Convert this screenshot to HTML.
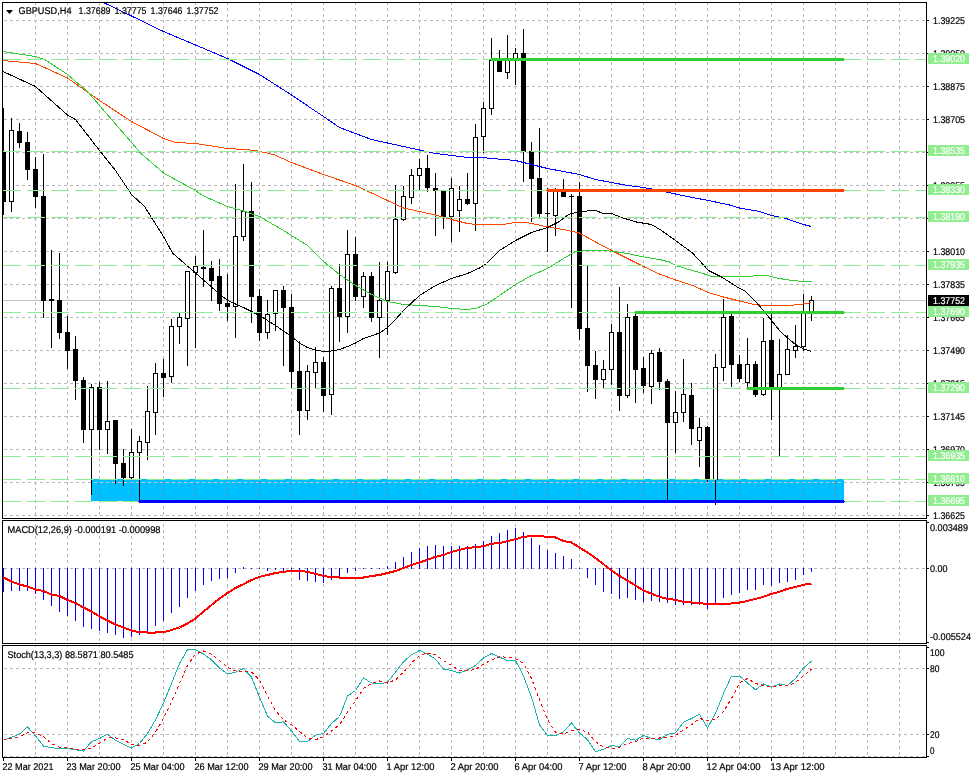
<!DOCTYPE html><html><head><meta charset="utf-8"><title>GBPUSD,H4</title><style>html,body{margin:0;padding:0;background:#fff}svg{display:block}</style></head><body><svg width="972" height="778" viewBox="0 0 972 778" shape-rendering="crispEdges">
<rect width="972" height="778" fill="#fff"/>
<defs><clipPath id="cm"><rect x="3" y="3" width="923" height="515"/></clipPath><clipPath id="c2"><rect x="3" y="521" width="923" height="122"/></clipPath><clipPath id="c3"><rect x="3" y="646" width="923" height="111"/></clipPath></defs>
<rect x="91" y="479" width="753" height="22" fill="#00BFFF"/>
<path d="M35.5 2V757M67.5 2V757M99.5 2V757M131.5 2V757M163.5 2V757M195.5 2V757M227.5 2V757M259.5 2V757M291.5 2V757M323.5 2V757M355.5 2V757M387.5 2V757M419.5 2V757M451.5 2V757M483.5 2V757M515.5 2V757M547.5 2V757M579.5 2V757M611.5 2V757M643.5 2V757M675.5 2V757M707.5 2V757M739.5 2V757M771.5 2V757M803.5 2V757M835.5 2V757M867.5 2V757M899.5 2V757" stroke="#b8b8b8" stroke-width="1" stroke-dasharray="3 3" fill="none"/>
<path d="M4 20.5H926M4 53.5H926M4 86.5H926M4 119.5H926M4 152.5H926M4 185.5H926M4 218.5H926M4 251.5H926M4 284.5H926M4 317.5H926M4 350.5H926M4 383.5H926M4 416.5H926M4 449.5H926M4 482.5H926M4 515.5H926M4 568.5H926M4 668.5H926M4 734.5H926M4 756.5H926" stroke="#b8b8b8" stroke-width="1" stroke-dasharray="3 3" fill="none"/>
<clipPath id="cr"><rect x="91" y="480" width="753" height="21"/></clipPath>
<path clip-path="url(#cr)" d="M99.5 2V757M131.5 2V757M163.5 2V757M195.5 2V757M227.5 2V757M259.5 2V757M291.5 2V757M323.5 2V757M355.5 2V757M387.5 2V757M419.5 2V757M451.5 2V757M483.5 2V757M515.5 2V757M547.5 2V757M579.5 2V757M611.5 2V757M643.5 2V757M675.5 2V757M707.5 2V757M739.5 2V757M771.5 2V757M803.5 2V757M835.5 2V757" stroke="#5f86b8" stroke-width="1" stroke-dasharray="3 3" fill="none"/>
<path clip-path="url(#cr)" d="M4 482.5H926" stroke="#cfc8c4" stroke-width="1" stroke-dasharray="3 3" fill="none"/>
<rect x="0" y="519" width="972" height="1" fill="#fff"/><rect x="0" y="644" width="972" height="1" fill="#fff"/>
<rect x="35" y="519" width="1" height="1" fill="#b8b8b8"/>
<rect x="3" y="300" width="923" height="1" fill="#c0c0c0"/>
<g clip-path="url(#cm)">
<rect x="3" y="108" width="1" height="107" fill="#000"/>
<rect x="1" y="152" width="5" height="50" fill="#000"/>
<rect x="11" y="118" width="1" height="94" fill="#000"/>
<rect x="9" y="130" width="5" height="72" fill="#000"/>
<rect x="10" y="131" width="3" height="70" fill="#fff"/>
<rect x="19" y="123" width="1" height="25" fill="#000"/>
<rect x="17" y="131" width="5" height="12" fill="#000"/>
<rect x="27" y="132" width="1" height="48" fill="#000"/>
<rect x="25" y="142" width="5" height="28" fill="#000"/>
<rect x="35" y="157" width="1" height="51" fill="#000"/>
<rect x="33" y="169" width="5" height="28" fill="#000"/>
<rect x="43" y="154" width="1" height="164" fill="#000"/>
<rect x="41" y="196" width="5" height="105" fill="#000"/>
<rect x="51" y="250" width="1" height="98" fill="#000"/>
<rect x="49" y="299" width="5" height="2" fill="#000"/>
<rect x="59" y="253" width="1" height="86" fill="#000"/>
<rect x="57" y="300" width="5" height="33" fill="#000"/>
<rect x="67" y="316" width="1" height="53" fill="#000"/>
<rect x="65" y="332" width="5" height="19" fill="#000"/>
<rect x="75" y="336" width="1" height="64" fill="#000"/>
<rect x="73" y="349" width="5" height="32" fill="#000"/>
<rect x="83" y="377" width="1" height="66" fill="#000"/>
<rect x="81" y="380" width="5" height="50" fill="#000"/>
<rect x="91" y="384" width="1" height="111" fill="#000"/>
<rect x="89" y="387" width="5" height="43" fill="#000"/>
<rect x="90" y="388" width="3" height="41" fill="#fff"/>
<rect x="99" y="382" width="1" height="68" fill="#000"/>
<rect x="97" y="387" width="5" height="43" fill="#000"/>
<rect x="107" y="381" width="1" height="73" fill="#000"/>
<rect x="105" y="421" width="5" height="9" fill="#000"/>
<rect x="106" y="422" width="3" height="7" fill="#fff"/>
<rect x="115" y="420" width="1" height="64" fill="#000"/>
<rect x="113" y="420" width="5" height="44" fill="#000"/>
<rect x="123" y="449" width="1" height="37" fill="#000"/>
<rect x="121" y="463" width="5" height="15" fill="#000"/>
<rect x="131" y="429" width="1" height="50" fill="#000"/>
<rect x="129" y="452" width="5" height="26" fill="#000"/>
<rect x="130" y="453" width="3" height="24" fill="#fff"/>
<rect x="139" y="436" width="1" height="65" fill="#000"/>
<rect x="137" y="441" width="5" height="12" fill="#000"/>
<rect x="138" y="442" width="3" height="10" fill="#fff"/>
<rect x="147" y="386" width="1" height="74" fill="#000"/>
<rect x="145" y="411" width="5" height="32" fill="#000"/>
<rect x="146" y="412" width="3" height="30" fill="#fff"/>
<rect x="155" y="363" width="1" height="72" fill="#000"/>
<rect x="153" y="373" width="5" height="40" fill="#000"/>
<rect x="154" y="374" width="3" height="38" fill="#fff"/>
<rect x="163" y="359" width="1" height="38" fill="#000"/>
<rect x="161" y="373" width="5" height="5" fill="#000"/>
<rect x="171" y="319" width="1" height="64" fill="#000"/>
<rect x="169" y="326" width="5" height="51" fill="#000"/>
<rect x="170" y="327" width="3" height="49" fill="#fff"/>
<rect x="179" y="312" width="1" height="32" fill="#000"/>
<rect x="177" y="317" width="5" height="10" fill="#000"/>
<rect x="178" y="318" width="3" height="8" fill="#fff"/>
<rect x="187" y="271" width="1" height="95" fill="#000"/>
<rect x="185" y="271" width="5" height="48" fill="#000"/>
<rect x="186" y="272" width="3" height="46" fill="#fff"/>
<rect x="195" y="256" width="1" height="92" fill="#000"/>
<rect x="193" y="266" width="5" height="7" fill="#000"/>
<rect x="194" y="267" width="3" height="5" fill="#fff"/>
<rect x="203" y="230" width="1" height="57" fill="#000"/>
<rect x="201" y="267" width="5" height="2" fill="#000"/>
<rect x="211" y="261" width="1" height="40" fill="#000"/>
<rect x="209" y="268" width="5" height="13" fill="#000"/>
<rect x="219" y="259" width="1" height="52" fill="#000"/>
<rect x="217" y="276" width="5" height="28" fill="#000"/>
<rect x="227" y="274" width="1" height="47" fill="#000"/>
<rect x="225" y="303" width="5" height="4" fill="#000"/>
<rect x="235" y="184" width="1" height="154" fill="#000"/>
<rect x="233" y="236" width="5" height="71" fill="#000"/>
<rect x="234" y="237" width="3" height="69" fill="#fff"/>
<rect x="243" y="164" width="1" height="77" fill="#000"/>
<rect x="241" y="211" width="5" height="26" fill="#000"/>
<rect x="242" y="212" width="3" height="24" fill="#fff"/>
<rect x="251" y="182" width="1" height="141" fill="#000"/>
<rect x="249" y="211" width="5" height="86" fill="#000"/>
<rect x="259" y="289" width="1" height="52" fill="#000"/>
<rect x="257" y="296" width="5" height="37" fill="#000"/>
<rect x="267" y="300" width="1" height="39" fill="#000"/>
<rect x="265" y="314" width="5" height="19" fill="#000"/>
<rect x="266" y="315" width="3" height="17" fill="#fff"/>
<rect x="275" y="290" width="1" height="41" fill="#000"/>
<rect x="273" y="290" width="5" height="24" fill="#000"/>
<rect x="274" y="291" width="3" height="22" fill="#fff"/>
<rect x="283" y="286" width="1" height="80" fill="#000"/>
<rect x="281" y="290" width="5" height="18" fill="#000"/>
<rect x="291" y="294" width="1" height="94" fill="#000"/>
<rect x="289" y="307" width="5" height="65" fill="#000"/>
<rect x="299" y="341" width="1" height="94" fill="#000"/>
<rect x="297" y="371" width="5" height="40" fill="#000"/>
<rect x="307" y="365" width="1" height="55" fill="#000"/>
<rect x="305" y="371" width="5" height="40" fill="#000"/>
<rect x="306" y="372" width="3" height="38" fill="#fff"/>
<rect x="315" y="347" width="1" height="41" fill="#000"/>
<rect x="313" y="362" width="5" height="11" fill="#000"/>
<rect x="314" y="363" width="3" height="9" fill="#fff"/>
<rect x="323" y="357" width="1" height="55" fill="#000"/>
<rect x="321" y="362" width="5" height="34" fill="#000"/>
<rect x="331" y="286" width="1" height="129" fill="#000"/>
<rect x="329" y="288" width="5" height="107" fill="#000"/>
<rect x="330" y="289" width="3" height="105" fill="#fff"/>
<rect x="339" y="264" width="1" height="78" fill="#000"/>
<rect x="337" y="288" width="5" height="29" fill="#000"/>
<rect x="347" y="230" width="1" height="103" fill="#000"/>
<rect x="345" y="254" width="5" height="63" fill="#000"/>
<rect x="346" y="255" width="3" height="61" fill="#fff"/>
<rect x="355" y="237" width="1" height="64" fill="#000"/>
<rect x="353" y="254" width="5" height="43" fill="#000"/>
<rect x="363" y="272" width="1" height="36" fill="#000"/>
<rect x="361" y="276" width="5" height="21" fill="#000"/>
<rect x="362" y="277" width="3" height="19" fill="#fff"/>
<rect x="371" y="272" width="1" height="50" fill="#000"/>
<rect x="369" y="276" width="5" height="42" fill="#000"/>
<rect x="379" y="262" width="1" height="96" fill="#000"/>
<rect x="377" y="300" width="5" height="18" fill="#000"/>
<rect x="378" y="301" width="3" height="16" fill="#fff"/>
<rect x="387" y="262" width="1" height="73" fill="#000"/>
<rect x="385" y="271" width="5" height="30" fill="#000"/>
<rect x="386" y="272" width="3" height="28" fill="#fff"/>
<rect x="395" y="185" width="1" height="89" fill="#000"/>
<rect x="393" y="219" width="5" height="54" fill="#000"/>
<rect x="394" y="220" width="3" height="52" fill="#fff"/>
<rect x="403" y="186" width="1" height="35" fill="#000"/>
<rect x="401" y="196" width="5" height="24" fill="#000"/>
<rect x="402" y="197" width="3" height="22" fill="#fff"/>
<rect x="411" y="169" width="1" height="35" fill="#000"/>
<rect x="409" y="175" width="5" height="23" fill="#000"/>
<rect x="410" y="176" width="3" height="21" fill="#fff"/>
<rect x="419" y="159" width="1" height="32" fill="#000"/>
<rect x="417" y="168" width="5" height="8" fill="#000"/>
<rect x="418" y="169" width="3" height="6" fill="#fff"/>
<rect x="427" y="155" width="1" height="37" fill="#000"/>
<rect x="425" y="168" width="5" height="20" fill="#000"/>
<rect x="435" y="173" width="1" height="63" fill="#000"/>
<rect x="433" y="188" width="5" height="3" fill="#000"/>
<rect x="443" y="190" width="1" height="39" fill="#000"/>
<rect x="441" y="190" width="5" height="27" fill="#000"/>
<rect x="451" y="178" width="1" height="64" fill="#000"/>
<rect x="449" y="188" width="5" height="29" fill="#000"/>
<rect x="450" y="189" width="3" height="27" fill="#fff"/>
<rect x="459" y="186" width="1" height="46" fill="#000"/>
<rect x="457" y="199" width="5" height="12" fill="#000"/>
<rect x="458" y="200" width="3" height="10" fill="#fff"/>
<rect x="467" y="173" width="1" height="32" fill="#000"/>
<rect x="465" y="199" width="5" height="5" fill="#000"/>
<rect x="475" y="124" width="1" height="107" fill="#000"/>
<rect x="473" y="137" width="5" height="67" fill="#000"/>
<rect x="474" y="138" width="3" height="65" fill="#fff"/>
<rect x="483" y="102" width="1" height="51" fill="#000"/>
<rect x="481" y="108" width="5" height="29" fill="#000"/>
<rect x="482" y="109" width="3" height="27" fill="#fff"/>
<rect x="491" y="38" width="1" height="77" fill="#000"/>
<rect x="489" y="60" width="5" height="49" fill="#000"/>
<rect x="490" y="61" width="3" height="47" fill="#fff"/>
<rect x="499" y="50" width="1" height="22" fill="#000"/>
<rect x="497" y="60" width="5" height="12" fill="#000"/>
<rect x="507" y="35" width="1" height="44" fill="#000"/>
<rect x="505" y="60" width="5" height="13" fill="#000"/>
<rect x="506" y="61" width="3" height="11" fill="#fff"/>
<rect x="515" y="48" width="1" height="37" fill="#000"/>
<rect x="513" y="53" width="5" height="8" fill="#000"/>
<rect x="514" y="54" width="3" height="6" fill="#fff"/>
<rect x="523" y="29" width="1" height="153" fill="#000"/>
<rect x="521" y="53" width="5" height="99" fill="#000"/>
<rect x="531" y="142" width="1" height="80" fill="#000"/>
<rect x="529" y="151" width="5" height="28" fill="#000"/>
<rect x="539" y="128" width="1" height="89" fill="#000"/>
<rect x="537" y="178" width="5" height="36" fill="#000"/>
<rect x="547" y="188" width="1" height="64" fill="#000"/>
<rect x="545" y="213" width="5" height="1" fill="#000"/>
<rect x="555" y="188" width="1" height="48" fill="#000"/>
<rect x="553" y="191" width="5" height="25" fill="#000"/>
<rect x="554" y="192" width="3" height="23" fill="#fff"/>
<rect x="563" y="179" width="1" height="18" fill="#000"/>
<rect x="561" y="191" width="5" height="6" fill="#000"/>
<rect x="571" y="194" width="1" height="114" fill="#000"/>
<rect x="569" y="196" width="5" height="1" fill="#000"/>
<rect x="579" y="182" width="1" height="158" fill="#000"/>
<rect x="577" y="196" width="5" height="133" fill="#000"/>
<rect x="587" y="265" width="1" height="127" fill="#000"/>
<rect x="585" y="328" width="5" height="38" fill="#000"/>
<rect x="595" y="351" width="1" height="48" fill="#000"/>
<rect x="593" y="365" width="5" height="15" fill="#000"/>
<rect x="603" y="360" width="1" height="28" fill="#000"/>
<rect x="601" y="369" width="5" height="11" fill="#000"/>
<rect x="602" y="370" width="3" height="9" fill="#fff"/>
<rect x="611" y="324" width="1" height="61" fill="#000"/>
<rect x="609" y="332" width="5" height="38" fill="#000"/>
<rect x="610" y="333" width="3" height="36" fill="#fff"/>
<rect x="619" y="287" width="1" height="124" fill="#000"/>
<rect x="617" y="332" width="5" height="64" fill="#000"/>
<rect x="627" y="304" width="1" height="94" fill="#000"/>
<rect x="625" y="317" width="5" height="79" fill="#000"/>
<rect x="626" y="318" width="3" height="77" fill="#fff"/>
<rect x="635" y="313" width="1" height="90" fill="#000"/>
<rect x="633" y="316" width="5" height="54" fill="#000"/>
<rect x="643" y="357" width="1" height="36" fill="#000"/>
<rect x="641" y="368" width="5" height="18" fill="#000"/>
<rect x="651" y="350" width="1" height="54" fill="#000"/>
<rect x="649" y="353" width="5" height="34" fill="#000"/>
<rect x="650" y="354" width="3" height="32" fill="#fff"/>
<rect x="659" y="348" width="1" height="42" fill="#000"/>
<rect x="657" y="352" width="5" height="30" fill="#000"/>
<rect x="667" y="379" width="1" height="122" fill="#000"/>
<rect x="665" y="381" width="5" height="42" fill="#000"/>
<rect x="675" y="391" width="1" height="62" fill="#000"/>
<rect x="673" y="412" width="5" height="11" fill="#000"/>
<rect x="674" y="413" width="3" height="9" fill="#fff"/>
<rect x="683" y="359" width="1" height="63" fill="#000"/>
<rect x="681" y="394" width="5" height="19" fill="#000"/>
<rect x="682" y="395" width="3" height="17" fill="#fff"/>
<rect x="691" y="383" width="1" height="62" fill="#000"/>
<rect x="689" y="395" width="5" height="34" fill="#000"/>
<rect x="699" y="418" width="1" height="49" fill="#000"/>
<rect x="697" y="427" width="5" height="14" fill="#000"/>
<rect x="698" y="428" width="3" height="12" fill="#fff"/>
<rect x="707" y="426" width="1" height="56" fill="#000"/>
<rect x="705" y="427" width="5" height="53" fill="#000"/>
<rect x="715" y="354" width="1" height="151" fill="#000"/>
<rect x="713" y="367" width="5" height="113" fill="#000"/>
<rect x="714" y="368" width="3" height="111" fill="#fff"/>
<rect x="723" y="299" width="1" height="82" fill="#000"/>
<rect x="721" y="317" width="5" height="51" fill="#000"/>
<rect x="722" y="318" width="3" height="49" fill="#fff"/>
<rect x="731" y="314" width="1" height="73" fill="#000"/>
<rect x="729" y="316" width="5" height="49" fill="#000"/>
<rect x="739" y="355" width="1" height="27" fill="#000"/>
<rect x="737" y="364" width="5" height="15" fill="#000"/>
<rect x="747" y="338" width="1" height="49" fill="#000"/>
<rect x="745" y="364" width="5" height="19" fill="#000"/>
<rect x="746" y="365" width="3" height="17" fill="#fff"/>
<rect x="755" y="361" width="1" height="36" fill="#000"/>
<rect x="753" y="364" width="5" height="31" fill="#000"/>
<rect x="763" y="318" width="1" height="78" fill="#000"/>
<rect x="761" y="341" width="5" height="54" fill="#000"/>
<rect x="762" y="342" width="3" height="52" fill="#fff"/>
<rect x="771" y="314" width="1" height="106" fill="#000"/>
<rect x="769" y="340" width="5" height="49" fill="#000"/>
<rect x="779" y="339" width="1" height="117" fill="#000"/>
<rect x="777" y="374" width="5" height="15" fill="#000"/>
<rect x="778" y="375" width="3" height="13" fill="#fff"/>
<rect x="787" y="335" width="1" height="40" fill="#000"/>
<rect x="785" y="349" width="5" height="26" fill="#000"/>
<rect x="786" y="350" width="3" height="24" fill="#fff"/>
<rect x="795" y="325" width="1" height="33" fill="#000"/>
<rect x="793" y="346" width="5" height="5" fill="#000"/>
<rect x="794" y="347" width="3" height="3" fill="#fff"/>
<rect x="803" y="294" width="1" height="57" fill="#000"/>
<rect x="801" y="311" width="5" height="36" fill="#000"/>
<rect x="802" y="312" width="3" height="34" fill="#fff"/>
<rect x="811" y="296" width="1" height="25" fill="#000"/>
<rect x="809" y="300" width="5" height="13" fill="#000"/>
<rect x="810" y="301" width="3" height="11" fill="#fff"/>
<polyline points="100.5,0.5 104.5,3.0 131.5,16.0 163.5,31.5 195.5,45.0 227.5,58.5 243.5,66.5 259.5,74.5 291.5,95.0 323.5,116.5 339.5,127.5 355.5,133.5 371.5,139.5 387.5,143.0 403.5,146.5 419.5,150.0 435.5,153.5 451.5,155.5 467.5,157.5 486.5,158.0 515.5,160.5 531.5,164.5 547.5,168.5 563.5,171.5 579.5,174.5 595.5,179.5 611.5,182.5 627.5,185.5 643.5,187.5 659.5,190.5 675.5,194.0 692.5,197.5 708.5,200.5 729.5,205.0 739.5,208.0 759.5,211.5 771.5,215.5 784.5,218.0 803.5,224.5 811.5,226.5" fill="none" stroke="#0000FF" stroke-width="1"/>
<polyline points="3.0,60.5 35.5,63.5 67.5,78.0 99.5,100.5 131.5,121.5 163.5,138.5 175.5,142.5 195.5,143.5 227.5,148.5 243.5,149.5 255.5,150.5 273.5,154.5 291.5,162.5 323.5,174.5 355.5,185.5 371.5,193.0 387.5,200.5 403.5,208.0 419.5,211.5 435.5,215.0 451.5,219.5 467.5,223.5 475.5,224.5 486.5,225.0 502.5,224.5 515.5,222.5 526.5,222.5 536.5,224.5 547.5,227.0 563.5,229.5 579.5,233.0 595.5,242.0 611.5,250.5 627.5,258.5 643.5,266.5 659.5,274.0 675.5,280.0 692.5,285.5 708.5,292.5 721.5,296.5 729.5,298.5 739.5,301.0 754.5,304.5 769.5,305.8 789.5,305.5 803.5,304.0 811.5,302.5" fill="none" stroke="#FF4500" stroke-width="1"/>
<polyline points="3.0,51.5 35.5,56.5 45.5,60.0 67.5,74.5 87.5,91.5 99.5,105.5 131.5,142.5 140.5,153.0 163.5,173.0 195.5,190.5 202.5,195.5 227.5,206.5 243.5,211.0 259.5,216.5 283.5,230.5 307.5,245.5 323.5,261.5 339.5,274.5 355.5,285.5 371.5,294.5 387.5,301.5 403.5,304.5 419.5,305.5 435.5,306.5 451.5,308.5 467.5,309.5 475.5,308.5 486.5,304.5 499.5,295.5 515.5,284.5 531.5,275.5 547.5,268.5 563.5,258.5 574.5,252.0 586.5,250.5 604.5,250.5 616.5,252.0 627.5,253.5 643.5,257.0 659.5,259.5 669.5,262.0 675.5,265.5 692.5,270.5 704.5,274.0 711.5,276.5 721.5,277.0 729.5,276.5 739.5,277.0 759.5,275.5 766.5,275.5 779.5,278.5 791.5,280.5 803.5,281.5 811.5,281.5" fill="none" stroke="#32CD32" stroke-width="1"/>
<polyline points="3.0,71.5 35.5,86.5 67.5,115.0 75.5,119.5 99.5,150.5 115.5,170.5 131.5,194.5 144.5,206.5 163.5,236.5 172.5,253.0 180.5,260.0 195.5,273.0 215.5,290.5 227.5,300.5 243.5,307.5 259.5,315.5 275.5,325.5 291.5,336.5 299.5,343.0 307.5,347.5 315.5,350.0 323.5,351.5 331.5,351.0 339.5,349.5 347.5,346.5 355.5,343.0 363.5,338.5 379.5,333.0 387.5,327.5 395.5,319.5 403.5,310.5 419.5,295.5 435.5,285.5 451.5,278.5 467.5,273.5 479.5,268.0 486.5,263.5 499.5,250.5 515.5,240.5 531.5,232.5 547.5,227.5 558.5,222.0 568.5,214.5 579.5,211.5 595.5,210.5 603.5,213.5 611.5,213.5 621.5,217.5 636.5,222.0 651.5,224.5 661.5,230.5 675.5,240.5 692.5,253.0 708.5,270.5 721.5,277.0 729.5,282.0 739.5,288.5 744.5,290.5 754.5,300.5 763.5,310.5 771.5,320.5 779.5,330.5 787.5,338.0 795.5,344.5 803.5,349.0 811.5,351.5" fill="none" stroke="#000" stroke-width="1"/>
<path d="M3 59.5H926M3 151.5H926M3 190.5H926M3 217.5H926M3 265.5H926M3 312.5H926M3 388.5H926M3 456.5H926M3 479.5H926M3 501.5H926" stroke="#90EE90" stroke-width="1" stroke-dasharray="18 6" fill="none"/>
<rect x="491" y="58" width="353" height="3" fill="#32CD32"/><rect x="490" y="59" width="355" height="1" fill="#32CD32"/>
<rect x="547" y="189" width="297" height="3" fill="#FF4500"/><rect x="546" y="190" width="299" height="1" fill="#FF4500"/>
<rect x="635" y="311" width="209" height="3" fill="#32CD32"/><rect x="634" y="312" width="211" height="1" fill="#32CD32"/>
<rect x="747" y="387" width="97" height="3" fill="#32CD32"/><rect x="746" y="388" width="99" height="1" fill="#32CD32"/>
<rect x="139" y="500" width="705" height="3" fill="#0000FF"/><rect x="138" y="501" width="707" height="1" fill="#0000FF"/>
</g>
<g clip-path="url(#c2)">
<rect x="3" y="568" width="1" height="24" fill="#0000FF"/>
<rect x="11" y="568" width="1" height="23" fill="#0000FF"/>
<rect x="19" y="568" width="1" height="23" fill="#0000FF"/>
<rect x="27" y="568" width="1" height="23" fill="#0000FF"/>
<rect x="35" y="568" width="1" height="26" fill="#0000FF"/>
<rect x="43" y="568" width="1" height="32" fill="#0000FF"/>
<rect x="51" y="568" width="1" height="38" fill="#0000FF"/>
<rect x="59" y="568" width="1" height="44" fill="#0000FF"/>
<rect x="67" y="568" width="1" height="48" fill="#0000FF"/>
<rect x="75" y="568" width="1" height="53" fill="#0000FF"/>
<rect x="83" y="568" width="1" height="59" fill="#0000FF"/>
<rect x="91" y="568" width="1" height="61" fill="#0000FF"/>
<rect x="99" y="568" width="1" height="63" fill="#0000FF"/>
<rect x="107" y="568" width="1" height="65" fill="#0000FF"/>
<rect x="115" y="568" width="1" height="67" fill="#0000FF"/>
<rect x="123" y="568" width="1" height="70" fill="#0000FF"/>
<rect x="131" y="568" width="1" height="69" fill="#0000FF"/>
<rect x="139" y="568" width="1" height="67" fill="#0000FF"/>
<rect x="147" y="568" width="1" height="64" fill="#0000FF"/>
<rect x="155" y="568" width="1" height="58" fill="#0000FF"/>
<rect x="163" y="568" width="1" height="53" fill="#0000FF"/>
<rect x="171" y="568" width="1" height="45" fill="#0000FF"/>
<rect x="179" y="568" width="1" height="39" fill="#0000FF"/>
<rect x="187" y="568" width="1" height="30" fill="#0000FF"/>
<rect x="195" y="568" width="1" height="23" fill="#0000FF"/>
<rect x="203" y="568" width="1" height="17" fill="#0000FF"/>
<rect x="211" y="568" width="1" height="13" fill="#0000FF"/>
<rect x="219" y="568" width="1" height="11" fill="#0000FF"/>
<rect x="227" y="568" width="1" height="10" fill="#0000FF"/>
<rect x="235" y="568" width="1" height="5" fill="#0000FF"/>
<rect x="243" y="567" width="1" height="2" fill="#0000FF"/>
<rect x="251" y="568" width="1" height="1" fill="#0000FF"/>
<rect x="259" y="568" width="1" height="1" fill="#0000FF"/>
<rect x="267" y="568" width="1" height="3" fill="#0000FF"/>
<rect x="275" y="568" width="1" height="2" fill="#0000FF"/>
<rect x="283" y="568" width="1" height="4" fill="#0000FF"/>
<rect x="291" y="568" width="1" height="3" fill="#0000FF"/>
<rect x="299" y="568" width="1" height="12" fill="#0000FF"/>
<rect x="307" y="568" width="1" height="13" fill="#0000FF"/>
<rect x="315" y="568" width="1" height="14" fill="#0000FF"/>
<rect x="323" y="568" width="1" height="15" fill="#0000FF"/>
<rect x="331" y="568" width="1" height="12" fill="#0000FF"/>
<rect x="339" y="568" width="1" height="9" fill="#0000FF"/>
<rect x="347" y="568" width="1" height="5" fill="#0000FF"/>
<rect x="355" y="568" width="1" height="3" fill="#0000FF"/>
<rect x="363" y="568" width="1" height="1" fill="#0000FF"/>
<rect x="371" y="568" width="1" height="1" fill="#0000FF"/>
<rect x="379" y="568" width="1" height="1" fill="#0000FF"/>
<rect x="387" y="566" width="1" height="3" fill="#0000FF"/>
<rect x="395" y="562" width="1" height="7" fill="#0000FF"/>
<rect x="403" y="557" width="1" height="12" fill="#0000FF"/>
<rect x="411" y="552" width="1" height="17" fill="#0000FF"/>
<rect x="419" y="548" width="1" height="21" fill="#0000FF"/>
<rect x="427" y="546" width="1" height="23" fill="#0000FF"/>
<rect x="435" y="545" width="1" height="24" fill="#0000FF"/>
<rect x="443" y="546" width="1" height="23" fill="#0000FF"/>
<rect x="451" y="546" width="1" height="23" fill="#0000FF"/>
<rect x="459" y="546" width="1" height="23" fill="#0000FF"/>
<rect x="467" y="546" width="1" height="23" fill="#0000FF"/>
<rect x="475" y="544" width="1" height="25" fill="#0000FF"/>
<rect x="483" y="541" width="1" height="28" fill="#0000FF"/>
<rect x="491" y="536" width="1" height="33" fill="#0000FF"/>
<rect x="499" y="533" width="1" height="36" fill="#0000FF"/>
<rect x="507" y="530" width="1" height="39" fill="#0000FF"/>
<rect x="515" y="528" width="1" height="41" fill="#0000FF"/>
<rect x="523" y="532" width="1" height="37" fill="#0000FF"/>
<rect x="531" y="538" width="1" height="31" fill="#0000FF"/>
<rect x="539" y="545" width="1" height="24" fill="#0000FF"/>
<rect x="547" y="550" width="1" height="19" fill="#0000FF"/>
<rect x="555" y="553" width="1" height="16" fill="#0000FF"/>
<rect x="563" y="556" width="1" height="13" fill="#0000FF"/>
<rect x="571" y="559" width="1" height="10" fill="#0000FF"/>
<rect x="579" y="568" width="1" height="1" fill="#0000FF"/>
<rect x="587" y="568" width="1" height="10" fill="#0000FF"/>
<rect x="595" y="568" width="1" height="17" fill="#0000FF"/>
<rect x="603" y="568" width="1" height="24" fill="#0000FF"/>
<rect x="611" y="568" width="1" height="26" fill="#0000FF"/>
<rect x="619" y="568" width="1" height="31" fill="#0000FF"/>
<rect x="627" y="568" width="1" height="30" fill="#0000FF"/>
<rect x="635" y="568" width="1" height="32" fill="#0000FF"/>
<rect x="643" y="568" width="1" height="34" fill="#0000FF"/>
<rect x="651" y="568" width="1" height="33" fill="#0000FF"/>
<rect x="659" y="568" width="1" height="34" fill="#0000FF"/>
<rect x="667" y="568" width="1" height="35" fill="#0000FF"/>
<rect x="675" y="568" width="1" height="37" fill="#0000FF"/>
<rect x="683" y="568" width="1" height="37" fill="#0000FF"/>
<rect x="691" y="568" width="1" height="37" fill="#0000FF"/>
<rect x="699" y="568" width="1" height="37" fill="#0000FF"/>
<rect x="707" y="568" width="1" height="41" fill="#0000FF"/>
<rect x="715" y="568" width="1" height="37" fill="#0000FF"/>
<rect x="723" y="568" width="1" height="30" fill="#0000FF"/>
<rect x="731" y="568" width="1" height="27" fill="#0000FF"/>
<rect x="739" y="568" width="1" height="25" fill="#0000FF"/>
<rect x="747" y="568" width="1" height="22" fill="#0000FF"/>
<rect x="755" y="568" width="1" height="22" fill="#0000FF"/>
<rect x="763" y="568" width="1" height="17" fill="#0000FF"/>
<rect x="771" y="568" width="1" height="18" fill="#0000FF"/>
<rect x="779" y="568" width="1" height="15" fill="#0000FF"/>
<rect x="787" y="568" width="1" height="14" fill="#0000FF"/>
<rect x="795" y="568" width="1" height="12" fill="#0000FF"/>
<rect x="803" y="568" width="1" height="7" fill="#0000FF"/>
<rect x="811" y="568" width="1" height="4" fill="#0000FF"/>
<polyline points="3.5,577.5 11.5,581.5 19.5,584.5 27.5,586.5 35.5,589.5 43.5,591.0 51.5,594.5 59.5,596.0 67.5,600.0 75.5,603.0 83.5,607.5 91.5,611.5 99.5,616.5 107.5,620.5 115.5,624.5 123.5,627.5 131.5,630.5 139.5,632.2 147.5,632.5 155.5,632.5 163.5,632.2 171.5,630.0 179.5,627.5 187.5,623.5 195.5,618.5 203.5,611.5 211.5,605.0 219.5,598.5 227.5,593.0 235.5,588.0 243.5,584.2 251.5,580.0 259.5,576.8 267.5,575.0 275.5,573.0 283.5,571.8 291.5,571.0 299.5,571.0 307.5,571.8 315.5,573.8 323.5,576.0 331.5,577.2 339.5,577.5 347.5,577.5 355.5,577.5 363.5,577.5 371.5,576.0 379.5,575.0 387.5,573.0 395.5,571.0 403.5,568.0 411.5,565.0 419.5,562.5 427.5,559.8 435.5,556.8 443.5,555.0 451.5,551.8 459.5,549.8 467.5,548.0 475.5,547.2 483.5,546.2 491.5,543.8 499.5,543.0 507.5,541.2 515.5,539.2 523.5,536.8 531.5,536.2 539.5,536.2 547.5,536.8 555.5,537.5 563.5,541.0 571.5,542.5 579.5,547.5 587.5,552.5 595.5,558.0 603.5,564.2 611.5,570.5 619.5,576.0 627.5,580.5 635.5,585.5 643.5,590.5 651.5,593.8 659.5,596.8 667.5,598.8 675.5,599.8 683.5,601.8 691.5,602.5 699.5,603.0 707.5,604.2 715.5,604.2 723.5,604.2 731.5,603.5 739.5,602.5 747.5,601.0 755.5,598.8 763.5,596.8 771.5,593.8 779.5,591.8 787.5,588.8 795.5,586.8 803.5,584.8 811.5,583.5" fill="none" stroke="#FF0000" stroke-width="2"/>
</g>
<g clip-path="url(#c3)">
<polyline points="3.5,740.2 11.5,737.2 19.5,734.2 27.5,726.8 35.5,736.0 43.5,746.0 51.5,747.8 59.5,748.5 67.5,748.5 75.5,749.8 83.5,751.0 91.5,741.8 99.5,738.5 107.5,734.2 115.5,740.2 123.5,744.2 131.5,748.0 139.5,743.5 147.5,733.5 155.5,719.8 163.5,703.0 171.5,683.5 179.5,663.5 187.5,649.8 195.5,649.8 203.5,654.0 211.5,659.8 219.5,668.0 227.5,674.0 235.5,672.2 243.5,668.5 251.5,677.2 259.5,697.2 267.5,716.0 275.5,722.8 283.5,721.8 291.5,731.0 299.5,741.5 307.5,741.5 315.5,735.2 323.5,733.5 331.5,723.5 339.5,716.5 347.5,696.0 355.5,690.5 363.5,678.0 371.5,683.0 379.5,684.0 387.5,682.2 395.5,672.2 403.5,661.8 411.5,654.8 419.5,650.5 427.5,654.0 435.5,659.2 443.5,669.0 451.5,670.5 459.5,673.0 467.5,669.8 475.5,665.5 483.5,658.0 491.5,653.5 499.5,657.2 507.5,660.5 515.5,660.5 523.5,676.0 531.5,697.2 539.5,724.8 547.5,735.5 555.5,735.5 563.5,731.8 571.5,723.0 579.5,733.0 587.5,739.8 595.5,751.8 603.5,749.2 611.5,745.5 619.5,746.8 627.5,738.5 635.5,740.2 643.5,735.5 651.5,738.5 659.5,739.8 667.5,734.2 675.5,733.0 683.5,722.2 691.5,718.5 699.5,714.2 707.5,728.0 715.5,713.5 723.5,693.5 731.5,676.0 739.5,676.0 747.5,683.0 755.5,689.8 763.5,684.0 771.5,687.2 779.5,684.0 787.5,685.5 795.5,678.5 803.5,668.0 811.5,661.0" fill="none" stroke="#20B2AA" stroke-width="1"/>
<polyline points="3.5,740.2 11.5,738.5 19.5,736.8 27.5,732.8 35.5,732.8 43.5,736.8 51.5,743.5 59.5,747.2 67.5,748.0 75.5,749.0 83.5,749.8 91.5,747.8 99.5,743.5 107.5,738.0 115.5,737.8 123.5,739.8 131.5,744.2 139.5,745.5 147.5,742.2 155.5,732.2 163.5,718.5 171.5,701.8 179.5,683.5 187.5,665.5 195.5,654.2 203.5,651.0 211.5,654.2 219.5,660.5 227.5,667.2 235.5,671.0 243.5,671.8 251.5,672.2 259.5,679.8 267.5,696.0 275.5,710.5 283.5,719.8 291.5,724.8 299.5,731.5 307.5,738.0 315.5,739.8 323.5,736.8 331.5,731.0 339.5,724.8 347.5,712.2 355.5,701.0 363.5,688.5 371.5,683.5 379.5,681.0 387.5,683.0 395.5,679.8 403.5,672.2 411.5,663.0 419.5,655.5 427.5,653.0 435.5,654.8 443.5,660.5 451.5,665.5 459.5,670.5 467.5,671.0 475.5,669.2 483.5,664.2 491.5,659.8 499.5,656.8 507.5,657.2 515.5,658.5 523.5,663.5 531.5,678.5 539.5,699.8 547.5,719.8 555.5,732.2 563.5,734.2 571.5,730.5 579.5,729.8 587.5,731.8 595.5,741.8 603.5,746.8 611.5,748.5 619.5,747.2 627.5,743.5 635.5,741.8 643.5,738.0 651.5,738.0 659.5,738.0 667.5,737.8 675.5,735.5 683.5,729.8 691.5,724.8 699.5,718.5 707.5,720.5 715.5,719.2 723.5,711.8 731.5,698.5 739.5,683.0 747.5,678.5 755.5,683.5 763.5,685.5 771.5,686.8 779.5,685.5 787.5,686.0 795.5,682.2 803.5,676.0 811.5,669.2" fill="none" stroke="#FF0000" stroke-width="1" stroke-dasharray="3 3"/>
</g>
<path d="M2.5 2V519M926.5 2V519M2 2.5H927M2 518.5H927" stroke="#000" fill="none"/>
<path d="M2.5 520V644M926.5 520V644M2 520.5H927M2 643.5H927" stroke="#000" fill="none"/>
<path d="M2.5 645V758M926.5 645V758M2 645.5H927M2 757.5H927" stroke="#000" fill="none"/>
<g font-family="Liberation Sans, Arial, sans-serif" font-size="9.8" shape-rendering="auto" text-rendering="geometricPrecision">
<rect x="927" y="20" width="2" height="1" fill="#000"/>
<text x="933" y="24" fill="#000" stroke="#000" stroke-width="0.2" textLength="32" lengthAdjust="spacingAndGlyphs">1.39225</text>
<rect x="927" y="53" width="2" height="1" fill="#000"/>
<text x="933" y="57" fill="#000" stroke="#000" stroke-width="0.2" textLength="32" lengthAdjust="spacingAndGlyphs">1.39050</text>
<rect x="927" y="86" width="2" height="1" fill="#000"/>
<text x="933" y="90" fill="#000" stroke="#000" stroke-width="0.2" textLength="32" lengthAdjust="spacingAndGlyphs">1.38875</text>
<rect x="927" y="119" width="2" height="1" fill="#000"/>
<text x="933" y="123" fill="#000" stroke="#000" stroke-width="0.2" textLength="32" lengthAdjust="spacingAndGlyphs">1.38705</text>
<rect x="927" y="152" width="2" height="1" fill="#000"/>
<rect x="927" y="185" width="2" height="1" fill="#000"/>
<text x="933" y="189" fill="#000" stroke="#000" stroke-width="0.2" textLength="32" lengthAdjust="spacingAndGlyphs">1.38355</text>
<rect x="927" y="218" width="2" height="1" fill="#000"/>
<rect x="927" y="251" width="2" height="1" fill="#000"/>
<text x="933" y="255" fill="#000" stroke="#000" stroke-width="0.2" textLength="32" lengthAdjust="spacingAndGlyphs">1.38010</text>
<rect x="927" y="284" width="2" height="1" fill="#000"/>
<text x="933" y="288" fill="#000" stroke="#000" stroke-width="0.2" textLength="32" lengthAdjust="spacingAndGlyphs">1.37835</text>
<rect x="927" y="317" width="2" height="1" fill="#000"/>
<text x="933" y="321" fill="#000" stroke="#000" stroke-width="0.2" textLength="32" lengthAdjust="spacingAndGlyphs">1.37665</text>
<rect x="927" y="350" width="2" height="1" fill="#000"/>
<text x="933" y="354" fill="#000" stroke="#000" stroke-width="0.2" textLength="32" lengthAdjust="spacingAndGlyphs">1.37490</text>
<rect x="927" y="383" width="2" height="1" fill="#000"/>
<text x="933" y="387" fill="#000" stroke="#000" stroke-width="0.2" textLength="32" lengthAdjust="spacingAndGlyphs">1.37315</text>
<rect x="927" y="416" width="2" height="1" fill="#000"/>
<text x="933" y="420" fill="#000" stroke="#000" stroke-width="0.2" textLength="32" lengthAdjust="spacingAndGlyphs">1.37145</text>
<rect x="927" y="449" width="2" height="1" fill="#000"/>
<text x="933" y="453" fill="#000" stroke="#000" stroke-width="0.2" textLength="32" lengthAdjust="spacingAndGlyphs">1.36970</text>
<rect x="927" y="482" width="2" height="1" fill="#000"/>
<text x="933" y="486" fill="#000" stroke="#000" stroke-width="0.2" textLength="32" lengthAdjust="spacingAndGlyphs">1.36795</text>
<rect x="927" y="515" width="2" height="1" fill="#000"/>
<text x="933" y="519" fill="#000" stroke="#000" stroke-width="0.2" textLength="32" lengthAdjust="spacingAndGlyphs">1.36625</text>
<rect x="928" y="53" width="41" height="11" fill="#90EE90"/>
<text x="933" y="62" fill="#fff" stroke="#fff" stroke-width="0.2" textLength="32" lengthAdjust="spacingAndGlyphs">1.39020</text>
<rect x="928" y="145" width="41" height="11" fill="#90EE90"/>
<text x="933" y="154" fill="#fff" stroke="#fff" stroke-width="0.2" textLength="32" lengthAdjust="spacingAndGlyphs">1.38535</text>
<rect x="928" y="184" width="41" height="11" fill="#90EE90"/>
<text x="933" y="193" fill="#fff" stroke="#fff" stroke-width="0.2" textLength="32" lengthAdjust="spacingAndGlyphs">1.38330</text>
<rect x="928" y="211" width="41" height="11" fill="#90EE90"/>
<text x="933" y="220" fill="#fff" stroke="#fff" stroke-width="0.2" textLength="32" lengthAdjust="spacingAndGlyphs">1.38190</text>
<rect x="928" y="259" width="41" height="11" fill="#90EE90"/>
<text x="933" y="268" fill="#fff" stroke="#fff" stroke-width="0.2" textLength="32" lengthAdjust="spacingAndGlyphs">1.37935</text>
<rect x="928" y="306" width="41" height="11" fill="#90EE90"/>
<text x="933" y="315" fill="#fff" stroke="#fff" stroke-width="0.2" textLength="32" lengthAdjust="spacingAndGlyphs">1.37690</text>
<rect x="928" y="382" width="41" height="11" fill="#90EE90"/>
<text x="933" y="391" fill="#fff" stroke="#fff" stroke-width="0.2" textLength="32" lengthAdjust="spacingAndGlyphs">1.37290</text>
<rect x="928" y="450" width="41" height="11" fill="#90EE90"/>
<text x="933" y="459" fill="#fff" stroke="#fff" stroke-width="0.2" textLength="32" lengthAdjust="spacingAndGlyphs">1.36935</text>
<rect x="928" y="473" width="41" height="11" fill="#90EE90"/>
<text x="933" y="482" fill="#fff" stroke="#fff" stroke-width="0.2" textLength="32" lengthAdjust="spacingAndGlyphs">1.36810</text>
<rect x="928" y="495" width="41" height="11" fill="#90EE90"/>
<text x="933" y="504" fill="#fff" stroke="#fff" stroke-width="0.2" textLength="32" lengthAdjust="spacingAndGlyphs">1.36695</text>
<rect x="928" y="295" width="41" height="11" fill="#000"/>
<text x="933" y="304" fill="#fff" stroke="#fff" stroke-width="0.2" textLength="32" lengthAdjust="spacingAndGlyphs">1.37752</text>
<text x="930" y="531" fill="#000" stroke="#000" stroke-width="0.2" textLength="38" lengthAdjust="spacingAndGlyphs">0.003489</text>
<text x="930" y="572" fill="#000" stroke="#000" stroke-width="0.2" textLength="17.5" lengthAdjust="spacingAndGlyphs">0.00</text>
<text x="930" y="640" fill="#000" stroke="#000" stroke-width="0.2" textLength="41" lengthAdjust="spacingAndGlyphs">-0.005524</text>
<rect x="927" y="568" width="2" height="1" fill="#000"/>
<rect x="927" y="522" width="2" height="1" fill="#000"/>
<rect x="927" y="642" width="2" height="1" fill="#000"/>
<rect x="927" y="647" width="2" height="1" fill="#000"/>
<rect x="927" y="756" width="2" height="1" fill="#000"/>
<text x="930" y="656" fill="#000" stroke="#000" stroke-width="0.2" textLength="14.5" lengthAdjust="spacingAndGlyphs">100</text>
<text x="930" y="672" fill="#000" stroke="#000" stroke-width="0.2" textLength="9.5" lengthAdjust="spacingAndGlyphs">80</text>
<text x="930" y="738" fill="#000" stroke="#000" stroke-width="0.2" textLength="9.5" lengthAdjust="spacingAndGlyphs">20</text>
<text x="930" y="754" fill="#000" stroke="#000" stroke-width="0.2" textLength="4.5" lengthAdjust="spacingAndGlyphs">0</text>
<rect x="927" y="668" width="2" height="1" fill="#000"/><rect x="927" y="734" width="2" height="1" fill="#000"/>
<path d="M6 10h7l-3.5 4z" fill="#000"/>
<text x="18.5" y="14" fill="#000" stroke="#000" stroke-width="0.2" textLength="53" lengthAdjust="spacingAndGlyphs">GBPUSD,H4</text>
<text x="78.5" y="14" fill="#000" stroke="#000" stroke-width="0.2" textLength="32" lengthAdjust="spacingAndGlyphs">1.37689</text>
<text x="114.5" y="14" fill="#000" stroke="#000" stroke-width="0.2" textLength="32" lengthAdjust="spacingAndGlyphs">1.37775</text>
<text x="150.5" y="14" fill="#000" stroke="#000" stroke-width="0.2" textLength="32" lengthAdjust="spacingAndGlyphs">1.37646</text>
<text x="186.5" y="14" fill="#000" stroke="#000" stroke-width="0.2" textLength="32" lengthAdjust="spacingAndGlyphs">1.37752</text>
<text x="7.5" y="533" fill="#000" stroke="#000" stroke-width="0.2" textLength="153" lengthAdjust="spacingAndGlyphs">MACD(12,26,9) -0.000191 -0.000998</text>
<text x="7.5" y="658" fill="#000" stroke="#000" stroke-width="0.2" textLength="126" lengthAdjust="spacingAndGlyphs">Stoch(13,3,3) 88.5871 80.5485</text>
<rect x="3" y="758" width="1" height="3" fill="#000"/>
<text x="2.5" y="770" fill="#000" stroke="#000" stroke-width="0.2" textLength="51" lengthAdjust="spacingAndGlyphs">22 Mar 2021</text>
<rect x="67" y="758" width="1" height="3" fill="#000"/>
<text x="66.5" y="770" fill="#000" stroke="#000" stroke-width="0.2" textLength="54" lengthAdjust="spacingAndGlyphs">23 Mar 20:00</text>
<rect x="131" y="758" width="1" height="3" fill="#000"/>
<text x="130.5" y="770" fill="#000" stroke="#000" stroke-width="0.2" textLength="54" lengthAdjust="spacingAndGlyphs">25 Mar 04:00</text>
<rect x="195" y="758" width="1" height="3" fill="#000"/>
<text x="194.5" y="770" fill="#000" stroke="#000" stroke-width="0.2" textLength="54" lengthAdjust="spacingAndGlyphs">26 Mar 12:00</text>
<rect x="259" y="758" width="1" height="3" fill="#000"/>
<text x="258.5" y="770" fill="#000" stroke="#000" stroke-width="0.2" textLength="54" lengthAdjust="spacingAndGlyphs">29 Mar 20:00</text>
<rect x="323" y="758" width="1" height="3" fill="#000"/>
<text x="322.5" y="770" fill="#000" stroke="#000" stroke-width="0.2" textLength="54" lengthAdjust="spacingAndGlyphs">31 Mar 04:00</text>
<rect x="387" y="758" width="1" height="3" fill="#000"/>
<text x="386.5" y="770" fill="#000" stroke="#000" stroke-width="0.2" textLength="48" lengthAdjust="spacingAndGlyphs">1 Apr 12:00</text>
<rect x="451" y="758" width="1" height="3" fill="#000"/>
<text x="450.5" y="770" fill="#000" stroke="#000" stroke-width="0.2" textLength="48" lengthAdjust="spacingAndGlyphs">2 Apr 20:00</text>
<rect x="515" y="758" width="1" height="3" fill="#000"/>
<text x="514.5" y="770" fill="#000" stroke="#000" stroke-width="0.2" textLength="48" lengthAdjust="spacingAndGlyphs">6 Apr 04:00</text>
<rect x="579" y="758" width="1" height="3" fill="#000"/>
<text x="578.5" y="770" fill="#000" stroke="#000" stroke-width="0.2" textLength="48" lengthAdjust="spacingAndGlyphs">7 Apr 12:00</text>
<rect x="643" y="758" width="1" height="3" fill="#000"/>
<text x="642.5" y="770" fill="#000" stroke="#000" stroke-width="0.2" textLength="48" lengthAdjust="spacingAndGlyphs">8 Apr 20:00</text>
<rect x="707" y="758" width="1" height="3" fill="#000"/>
<text x="706.5" y="770" fill="#000" stroke="#000" stroke-width="0.2" textLength="54" lengthAdjust="spacingAndGlyphs">12 Apr 04:00</text>
<rect x="771" y="758" width="1" height="3" fill="#000"/>
<text x="770.5" y="770" fill="#000" stroke="#000" stroke-width="0.2" textLength="54" lengthAdjust="spacingAndGlyphs">13 Apr 12:00</text>
</g>
</svg></body></html>
